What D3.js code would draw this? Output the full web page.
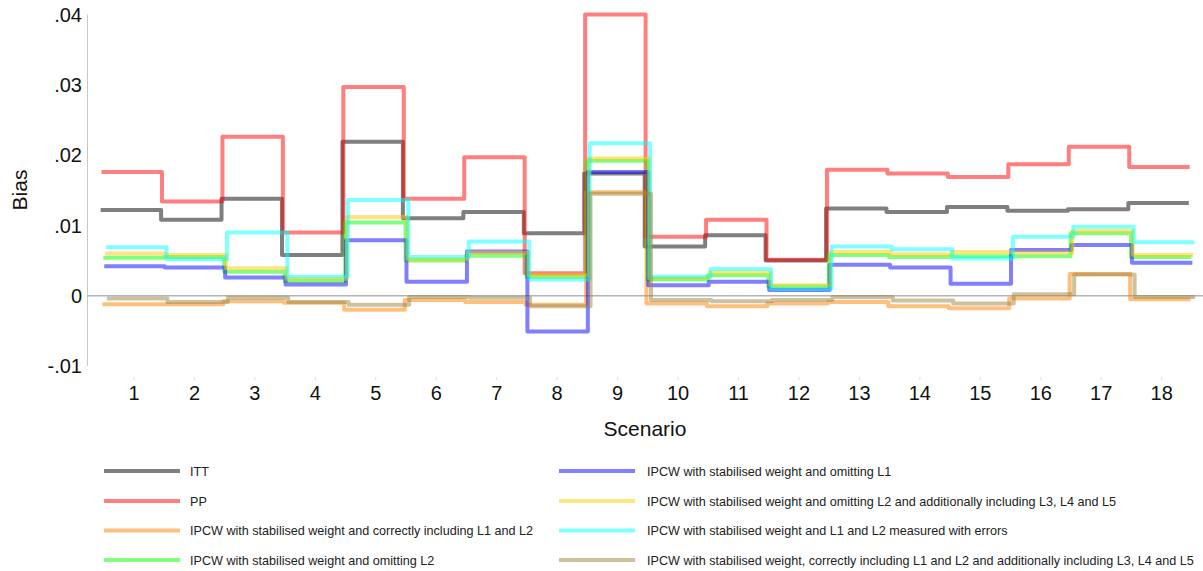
<!DOCTYPE html>
<html>
<head>
<meta charset="utf-8">
<script src="https://cdn.jsdelivr.net/npm/d3@7"></script>
<style>
  html, body { margin: 0; padding: 0; background: #fff; }
  svg { display: block; font-family: "Liberation Sans", Arial, Helvetica, sans-serif; }
</style>
</head>
<body>
<svg id="chart" width="1203" height="571"></svg>
<script>
const scenarios = [1,2,3,4,5,6,7,8,9,10,11,12,13,14,15,16,17,18];
const yTicks = [-0.01, 0, 0.01, 0.02, 0.03, 0.04];
const yTickLabels = ["-.01", "0", ".01", ".02", ".03", ".04"];

const itt      = [0.0122,0.0108,0.0138,0.0058,0.0219,0.0110,0.0119,0.0089,0.0174,0.0070,0.0086,0.0050,0.0124,0.0119,0.0126,0.0121,0.0123,0.0132];
const pp       = [0.0176,0.0134,0.0226,0.0090,0.0297,0.0138,0.0197,0.0032,0.0400,0.0084,0.0108,0.0051,0.0179,0.0174,0.0169,0.0187,0.0212,0.0183];
const ipcwCorr = [-0.0012,-0.0012,-0.0008,-0.0010,-0.0020,-0.0006,-0.0009,-0.0013,0.0147,-0.0011,-0.0015,-0.0011,-0.0009,-0.0015,-0.0018,-0.0004,0.0031,-0.0005];
const omitL2   = [0.0054,0.0055,0.0034,0.0021,0.0104,0.0050,0.0057,0.0027,0.0192,0.0023,0.0029,0.0013,0.0058,0.0055,0.0056,0.0056,0.0089,0.0055];
const omitL1   = [0.0042,0.0040,0.0026,0.0016,0.0079,0.0020,0.0063,-0.0051,0.0176,0.0015,0.0020,0.0008,0.0044,0.0040,0.0017,0.0065,0.0072,0.0047];
const omitL2Add= [0.0060,0.0058,0.0039,0.0024,0.0112,0.0052,0.0061,0.0029,0.0195,0.0025,0.0033,0.0015,0.0062,0.0059,0.0062,0.0061,0.0092,0.0058];
const measErr  = [0.0069,0.0052,0.0090,0.0027,0.0136,0.0055,0.0077,0.0023,0.0217,0.0027,0.0038,0.0010,0.0070,0.0066,0.0053,0.0084,0.0098,0.0076];
const corrAdd  = [-0.0004,-0.0009,-0.0003,-0.0009,-0.0013,-0.0002,-0.0003,-0.0015,0.0145,-0.0006,-0.0008,-0.0006,-0.0002,-0.0007,-0.0011,0.0002,0.0030,-0.0002];

const seriesNames = [
  "ITT",
  "PP",
  "IPCW with stabilised weight and correctly including L1 and L2",
  "IPCW with stabilised weight and omitting L2",
  "IPCW with stabilised weight and omitting L1",
  "IPCW with stabilised weight and omitting L2 and additionally including L3, L4 and L5",
  "IPCW with stabilised weight and L1 and L2 measured with errors",
  "IPCW with stabilised weight, correctly including L1 and L2 and additionally including L3, L4 and L5"
];
const seriesValues = [itt, pp, ipcwCorr, omitL2, omitL1, omitL2Add, measErr, corrAdd];
const seriesColors = ["#000000", "#ff0000", "#ff8000", "#00ff00", "#0000ff", "#ffcc00", "#00ffff", "#9c8640"];

const svg = d3.select("#chart");

const x = d3.scaleLinear().domain([1, 18]).range([134, 1161.7]);
const y = d3.scaleLinear().domain([-0.01, 0.04]).range([366, 14.5]);

// Y axis line
svg.append("line")
  .attr("x1", 87.5).attr("x2", 87.5)
  .attr("y1", y(0.04)).attr("y2", y(-0.01))
  .attr("stroke", "#c8c8c8").attr("stroke-width", 1);

// Y tick labels
svg.append("g").selectAll("text")
  .data(yTicks)
  .join("text")
  .attr("x", 82)
  .attr("y", d => y(d))
  .attr("dy", "0.36em")
  .attr("text-anchor", "end")
  .attr("font-size", 20)
  .attr("fill", "#111")
  .text((d, i) => yTickLabels[i]);

// zero reference line
svg.append("line")
  .attr("x1", 87.5).attr("x2", 1203)
  .attr("y1", y(0)).attr("y2", y(0))
  .attr("stroke", "#b4b4b4").attr("stroke-width", 1.5);

// X axis ticks & labels
const xAxisG = svg.append("g").attr("transform", "translate(0,377)");
xAxisG.selectAll("line")
  .data(scenarios)
  .join("line")
  .attr("x1", d => x(d)).attr("x2", d => x(d))
  .attr("y1", 0).attr("y2", 3)
  .attr("stroke", "#dddddd").attr("stroke-width", 1);
xAxisG.selectAll("text")
  .data(scenarios)
  .join("text")
  .attr("x", d => x(d))
  .attr("y", 16)
  .attr("dy", "0.36em")
  .attr("text-anchor", "middle")
  .attr("font-size", 20)
  .attr("fill", "#111")
  .text(d => d);

// Axis titles
svg.append("text")
  .attr("x", 645).attr("y", 428)
  .attr("dy", "0.36em")
  .attr("text-anchor", "middle")
  .attr("font-size", 21)
  .attr("fill", "#111")
  .text("Scenario");

svg.append("text")
  .attr("transform", "translate(19,190) rotate(-90)")
  .attr("dy", "0.36em")
  .attr("text-anchor", "middle")
  .attr("font-size", 21)
  .attr("fill", "#111")
  .text("Bias");

// Step lines
const line = d3.line()
  .x(d => d[0])
  .y(d => y(d[1]))
  .curve(d3.curveStepAfter);

const jitter = 0.9;
seriesValues.forEach((vals, i) => {
  const off = (i - 3.5) * jitter;
  const pts = vals.map((v, k) => [x(scenarios[k] - 0.5) + off, v]);
  pts.push([x(scenarios[scenarios.length - 1] + 0.5) + off, vals[vals.length - 1]]);
  svg.append("path")
    .attr("d", line(pts))
    .attr("fill", "none")
    .attr("stroke", seriesColors[i])
    .attr("stroke-opacity", 0.5)
    .attr("stroke-width", 4)
    .attr("stroke-linejoin", "round")
    .attr("stroke-linecap", "butt");
});

// Legend
const legendCols = [{lx: 104, tx: 190}, {lx: 559, tx: 647}];
const rowY = [471, 501, 530.5, 560];
const legend = svg.append("g");
seriesNames.forEach((name, i) => {
  const col = legendCols[Math.floor(i / 4)];
  const ry = rowY[i % 4];
  legend.append("line")
    .attr("x1", col.lx).attr("x2", col.lx + 76)
    .attr("y1", ry).attr("y2", ry)
    .attr("stroke", seriesColors[i])
    .attr("stroke-opacity", 0.5)
    .attr("stroke-width", 4);
  legend.append("text")
    .attr("x", col.tx).attr("y", ry)
    .attr("dy", "0.36em")
    .attr("font-size", 12.6)
    .attr("fill", "#222")
    .text(name);
});
</script>
</body>
</html>
